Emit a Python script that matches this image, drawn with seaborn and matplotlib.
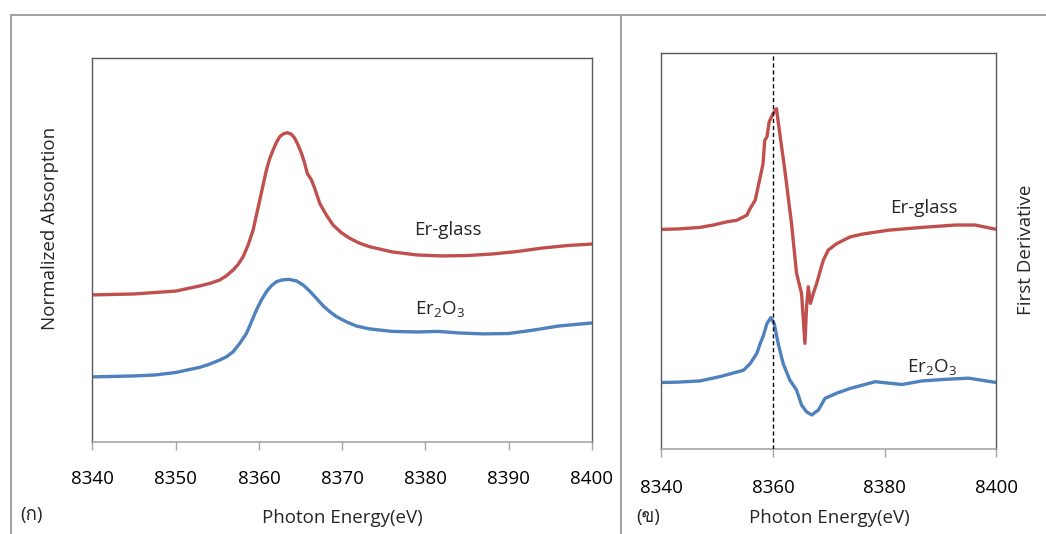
import numpy as np
import pandas as pd
import matplotlib
matplotlib.use("Agg")
import matplotlib.pyplot as plt
from matplotlib.patches import Rectangle
from matplotlib import font_manager, ft2font
import seaborn as sns

# ---- XANES spectra (normalized absorption, offset for clarity) ----
energy_abs_glass = [8340, 8345, 8350, 8352.9, 8354.1, 8355.3, 8356.1, 8356.9, 8357.5, 8358.1,
                    8358.7, 8359.3, 8359.7, 8360.1, 8360.5, 8360.9, 8361.3, 8361.7, 8362.1,
                    8362.5, 8362.9, 8363.4, 8363.9, 8364.3, 8364.7, 8365.1, 8365.5, 8365.8,
                    8366.3, 8366.7, 8367.3, 8368.1, 8368.9, 8369.9, 8370.9, 8372.1, 8373.3,
                    8376, 8379, 8382, 8385, 8388, 8391, 8394, 8397, 8400]
abs_glass = [0.766, 0.771, 0.786, 0.813, 0.826, 0.844, 0.866, 0.896, 0.925, 0.965,
             1.026, 1.104, 1.182, 1.260, 1.339, 1.417, 1.477, 1.521, 1.561,
             1.590, 1.604, 1.611, 1.603, 1.582, 1.547, 1.504, 1.451, 1.399,
             1.365, 1.321, 1.243, 1.182, 1.130, 1.090, 1.061, 1.035, 1.017,
             0.990, 0.974, 0.969, 0.971, 0.979, 0.992, 1.010, 1.023, 1.031]

energy_abs_oxide = [8340, 8345, 8347.5, 8350, 8352.9, 8354.1, 8355.3, 8356.1, 8356.9, 8357.7,
                    8358.5, 8359.1, 8359.7, 8360.3, 8360.9, 8361.5, 8362.1, 8362.8, 8363.6,
                    8364.5, 8365.3, 8366.1, 8366.9, 8367.7, 8368.5, 8369.3, 8370.5, 8371.7,
                    8373.3, 8376, 8379, 8381.5, 8384, 8387, 8390, 8393, 8396, 8400]
abs_oxide = [0.339, 0.344, 0.349, 0.362, 0.389, 0.406, 0.427, 0.444, 0.470, 0.514,
             0.566, 0.626, 0.688, 0.740, 0.783, 0.814, 0.835, 0.844, 0.847,
             0.839, 0.818, 0.786, 0.748, 0.710, 0.679, 0.653, 0.626, 0.604,
             0.589, 0.576, 0.573, 0.576, 0.568, 0.563, 0.565, 0.583, 0.604, 0.620]

# ---- First derivative of the spectra (offset for clarity) ----
energy_der_glass = [8340, 8343, 8346.9, 8349.3, 8351.7, 8353.5, 8355.3, 8355.9, 8356.8, 8357.3,
                    8357.7, 8358.2, 8358.5, 8358.9, 8359.3, 8359.7, 8360.0, 8360.6, 8361.2,
                    8362.1, 8362.7, 8363.3, 8363.9, 8364.2, 8365.1, 8365.7, 8366.0, 8366.3,
                    8366.7, 8367.2, 8367.8, 8368.4, 8369.0, 8369.9, 8371.4, 8373.8, 8376,
                    8380.7, 8386.7, 8392.7, 8396.2, 8400]
der_glass = [0.555, 0.556, 0.560, 0.566, 0.574, 0.578, 0.591, 0.608, 0.629, 0.662,
             0.688, 0.721, 0.780, 0.789, 0.827, 0.839, 0.848, 0.860, 0.797,
             0.705, 0.637, 0.570, 0.486, 0.444, 0.393, 0.267, 0.359, 0.410,
             0.368, 0.393, 0.418, 0.448, 0.477, 0.503, 0.519, 0.536, 0.543,
             0.553, 0.560, 0.566, 0.566, 0.555]

energy_der_oxide = [8340, 8343, 8346.9, 8350.5, 8352.6, 8354.7, 8355.9, 8357.1, 8357.7, 8358.2,
                    8358.9, 8359.6, 8360.2, 8360.9, 8361.8, 8363.0, 8364.2, 8365.1, 8366.0,
                    8366.9, 8368.1, 8369.3, 8371.4, 8373.8, 8378.3, 8383.1, 8386.7, 8390.9,
                    8395, 8400]
der_oxide = [0.168, 0.169, 0.172, 0.183, 0.191, 0.199, 0.216, 0.242, 0.267, 0.284,
             0.317, 0.332, 0.317, 0.267, 0.216, 0.174, 0.149, 0.111, 0.094,
             0.086, 0.098, 0.128, 0.141, 0.153, 0.170, 0.163, 0.172, 0.176,
             0.179, 0.168]

edge_energy = 8360
ticks_abs = [8340, 8350, 8360, 8370, 8380, 8390, 8400]
ticks_der = [8340, 8360, 8380, 8400]

RED = "#C0504D"
BLUE = "#4F81BD"
AXIS_GREY = "#A6A6A6"
BORDER = "#595959"


def family_with(ch):
    """Return the name of an installed font family that has a glyph for ch."""
    for entry in font_manager.fontManager.ttflist:
        try:
            if ord(ch) in ft2font.FT2Font(entry.fname).get_charmap():
                return entry.name
        except Exception:
            continue
    return None


sns.set_style("white")
BASE_FAMILIES = ["Open Sans", "DejaVu Sans", "Noto Sans"]
plt.rcParams["font.family"] = BASE_FAMILIES
plt.rcParams["mathtext.fontset"] = "custom"
plt.rcParams["mathtext.rm"] = "Open Sans"
FS = 13.5

thai_family = family_with("ก")
letter_families = BASE_FAMILIES + ([thai_family] if thai_family else [])

fig = plt.figure(figsize=(10.46, 5.34), dpi=100)

# outer chart frames
fig.patches.append(Rectangle((0.0105, -0.02), 0.5829, 0.971 + 0.02, transform=fig.transFigure,
                             fill=False, edgecolor="#A0A0A0", lw=1.4, zorder=0))
fig.patches.append(Rectangle((0.5934, -0.02), 0.42, 0.9728 + 0.02, transform=fig.transFigure,
                             fill=False, edgecolor="#A0A0A0", lw=1.4, zorder=0))

ax1 = fig.add_axes([0.0884, 0.1723, 0.4775, 0.7191])
ax2 = fig.add_axes([0.6324, 0.1592, 0.3201, 0.7410])

df_abs = pd.concat([
    pd.DataFrame({"E": energy_abs_glass, "mu": abs_glass, "s": "Er-glass"}),
    pd.DataFrame({"E": energy_abs_oxide, "mu": abs_oxide, "s": "Er2O3"}),
])
df_der = pd.concat([
    pd.DataFrame({"E": energy_der_glass, "d": der_glass, "s": "Er-glass"}),
    pd.DataFrame({"E": energy_der_oxide, "d": der_oxide, "s": "Er2O3"}),
])
pal = {"Er-glass": RED, "Er2O3": BLUE}

sns.lineplot(data=df_abs, x="E", y="mu", hue="s", palette=pal, estimator=None,
             lw=2.4, legend=False, ax=ax1)
sns.lineplot(data=df_der, x="E", y="d", hue="s", palette=pal, estimator=None,
             lw=2.4, legend=False, ax=ax2)
ax2.axvline(edge_energy, color="black", lw=1.0, ls=(0, (3, 2)), zorder=3)

ax1.set_xlim(8340, 8400)
ax1.set_ylim(0, 2.0)
ax2.set_xlim(8340, 8400)
ax2.set_ylim(0, 1.0)
ax1.set_xticks(ticks_abs)
ax2.set_xticks(ticks_der)

for ax, pad in ((ax1, 15), (ax2, 16)):
    ax.set_yticks([])
    ax.set_xlabel("")
    ax.set_ylabel("")
    for sp in ("left", "right", "top"):
        ax.spines[sp].set_color(BORDER)
        ax.spines[sp].set_linewidth(1.0)
    ax.spines["bottom"].set_color(AXIS_GREY)
    ax.spines["bottom"].set_linewidth(1.2)
    ax.tick_params(axis="x", direction="out", length=5.5, width=1.0, color=AXIS_GREY,
                   labelsize=FS, labelcolor="black", pad=pad, bottom=True)

# series labels
ax1.text(8378.7, 1.104, "Er-glass", fontsize=FS, va="center", ha="left")
ax1.text(8378.8, 0.69, r"Er$_\mathregular{2}$O$_\mathregular{3}$", fontsize=FS, va="center", ha="left")
ax2.text(8380.9, 0.609, "Er-glass", fontsize=FS, va="center", ha="left")
ax2.text(8384.0, 0.205, r"Er$_\mathregular{2}$O$_\mathregular{3}$", fontsize=FS, va="center", ha="left")

# axis titles
fig.text(342 / 1046, 1 - 518 / 534, "Photon Energy(eV)", fontsize=FS, ha="center", va="center")
fig.text(829 / 1046, 1 - 518 / 534, "Photon Energy(eV)", fontsize=FS, ha="center", va="center")
fig.text(50 / 1046, 1 - 228 / 534, "Normalized Absorption", fontsize=FS, rotation=90,
         ha="center", va="center")
fig.text(1026 / 1046, 1 - 250 / 534, "First Derivative", fontsize=FS, rotation=90,
         ha="center", va="center")

# panel letters
fig.text(20 / 1046, 1 - 515 / 534, "(ก)", fontsize=FS, ha="left", va="center",
         family=letter_families)
fig.text(636 / 1046, 1 - 517 / 534, "(ข)", fontsize=FS, ha="left", va="center",
         family=letter_families)

fig.savefig("out.png", dpi=100)
